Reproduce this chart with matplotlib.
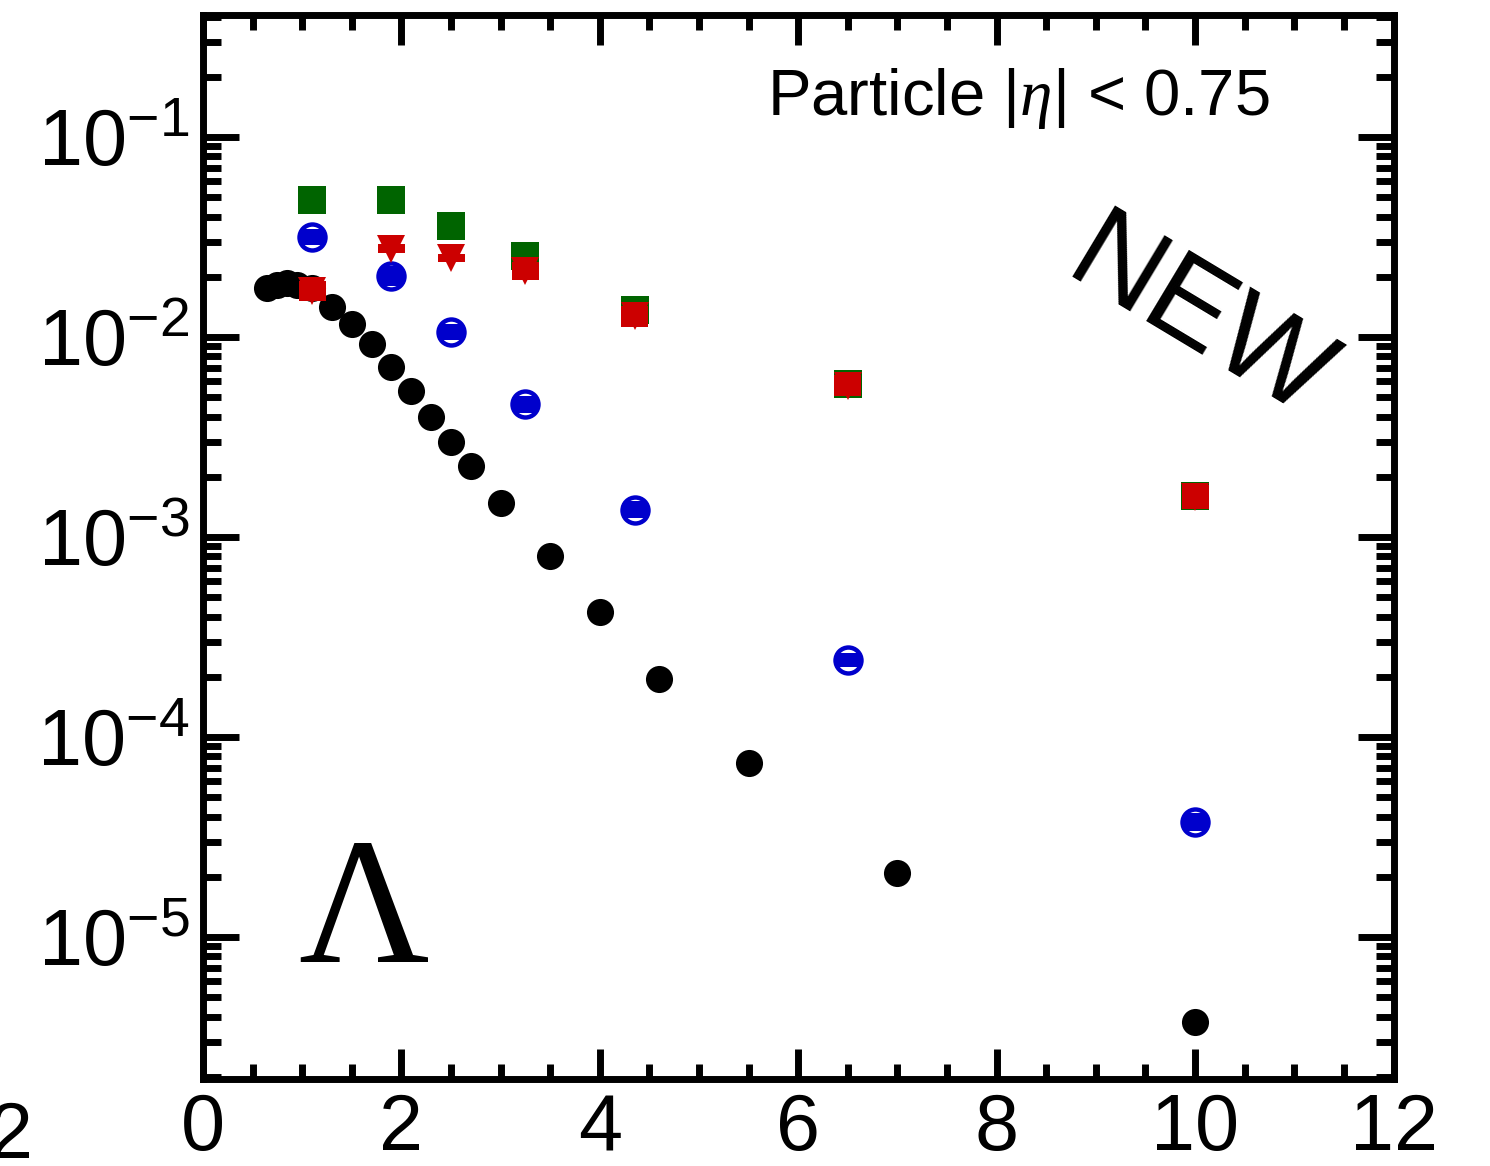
import matplotlib
matplotlib.use("Agg")
import matplotlib.pyplot as plt
import numpy as np
from matplotlib.patches import Rectangle, Circle
from matplotlib.transforms import Affine2D, ScaledTranslation

plt.rcParams['font.family'] = ['Liberation Sans', 'DejaVu Sans']
plt.rcParams['mathtext.fontset'] = 'custom'
plt.rcParams['mathtext.rm'] = 'Liberation Sans'
plt.rcParams['mathtext.it'] = 'Liberation Serif:italic'

# Lambda spectrum, fine binning
pt_fine = [0.65, 0.75, 0.85, 0.95, 1.1, 1.3, 1.5, 1.7, 1.9, 2.1, 2.3, 2.5,
           2.7, 3.0, 3.5, 4.0, 4.6, 5.5, 7.0, 10.0]
y_fine = [0.0175, 0.0182, 0.0186, 0.0182, 0.0175, 0.0142, 0.0116, 0.0092,
          0.0071, 0.0054, 0.0040, 0.0030, 0.00226, 0.00148, 0.00080,
          0.00042, 0.000195, 7.4e-5, 2.1e-5, 3.76e-6]

# coarse binning
pt_bins = [1.1, 1.9, 2.5, 3.25, 4.35, 6.5, 10.0]
y_green = [0.0483, 0.0483, 0.0358, 0.0253, 0.0136, 0.0058, 0.00160]
y_red = [0.0170, 0.0277, 0.0249, 0.0214, 0.0127, 0.0057, 0.00158]
sys_red = [0.12, 0.05, 0.05, 0.11, 0.13, 0.13, 0.15]
y_blue = [0.0316, 0.0202, 0.0106, 0.0046, 0.00137, 0.000243, 3.74e-5]
sys_blue = [0.10, 0.12, 0.10, 0.10, 0.10, 0.08, 0.11]

xticks = [0, 2, 4, 6, 8, 10, 12]

W, H = 1490, 1166
fig = plt.figure(figsize=(W / 100, H / 100), dpi=100)
ax = fig.add_axes([203 / W, 1 - 1078.5 / H, 1190.5 / W, 1063.5 / H])

ax.set_yscale('log')
ax.set_xlim(0, 12)
ax.set_ylim(10 ** -5.7075, 10 ** -0.39)

green = '#006400'
red = '#cc0000'
blue = '#0000cc'
box_w = 0.272

ax.plot(pt_fine, y_fine, 'o', color='black', ms=19.5, mew=0, zorder=3)
ax.plot(pt_bins, y_green, 's', color=green, ms=19.5, mew=0, zorder=4)

# open circles with systematic bands clipped to the marker
for x, y, s in zip(pt_bins, y_blue, sys_blue):
    f = 1 + s
    r = Rectangle((x - box_w / 2, y / f), box_w, y * f - y / f,
                  facecolor=blue, edgecolor='none', zorder=5)
    ax.add_patch(r)
    clip = Circle((0, 0), 13.5,
                  transform=Affine2D() + ScaledTranslation(x, y, ax.transData))
    r.set_clip_path(clip)
ax.plot(pt_bins, y_blue, 'o', mfc='none', mec=blue, ms=18.7, mew=3.2, zorder=6)

# red triangles with systematic boxes
for x, y, s in zip(pt_bins, y_red, sys_red):
    f = 1 + s
    ax.add_patch(Rectangle((x - box_w / 2, y / f), box_w, y * f - y / f,
                           facecolor=red, edgecolor='none', zorder=7))
ax.plot(pt_bins, y_red, 'v', color=red, ms=20, mew=0, zorder=8)

for side in ax.spines.values():
    side.set_linewidth(5)
ax.set_xticks(xticks)
ax.set_xticks(np.arange(0, 12.01, 0.5), minor=True)
ax.tick_params(axis='both', which='both', direction='in', top=True,
               right=True, width=5)
ax.tick_params(axis='x', which='major', length=21.6, pad=10, labelsize=57)
ax.tick_params(axis='x', which='minor', length=11)
ax.tick_params(axis='y', which='major', length=26, pad=10, labelsize=57)
ax.tick_params(axis='y', which='minor', length=13.3)
ax.yaxis.set_minor_locator(matplotlib.ticker.LogLocator(base=10, subs=np.arange(2, 10)))
ax.yaxis.set_minor_formatter(matplotlib.ticker.NullFormatter())

# label of the neighbouring panel spilling over the left edge
fig.text(-11 / W, 1 - 1100 / H, '12', fontsize=57, ha='center', va='top')

fig.text(767 / W, 1 - 115 / H, r'Particle $|\eta|$ < 0.75', fontsize=47,
         ha='left', va='baseline')
fig.text(1198 / W, 1 - 322 / H, 'NEW', fontsize=87, rotation=-31,
         rotation_mode='anchor', ha='center', va='center')
fig.text(364 / W, 1 - 962 / H, '\u039b', fontsize=130,
         family='Liberation Serif', ha='center', va='baseline')

fig.savefig('out.png', dpi=100)
